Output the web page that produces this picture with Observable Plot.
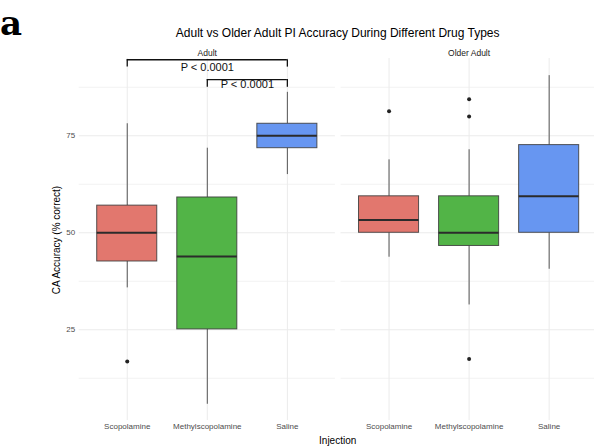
<!DOCTYPE html>
<html>
<head>
<meta charset="utf-8">
<script src="https://cdn.jsdelivr.net/npm/d3@7"></script>
<script src="https://cdn.jsdelivr.net/npm/@observablehq/plot@0.6"></script>
<style>
  html, body { margin: 0; padding: 0; background: white; overflow: hidden; }
</style>
</head>
<body>
<div id="chart"></div>
<script>
// ---- data ----
const panels = ["Adult", "Older Adult"];
const injections = ["Scopolamine", "Methylscopolamine", "Saline"];
const boxColors = ["#E2776E", "#52B447", "#6796F1"];

const groupPanel = ["Adult", "Adult", "Adult", "Older Adult", "Older Adult", "Older Adult"];
const groupInjection = ["Scopolamine", "Methylscopolamine", "Saline", "Scopolamine", "Methylscopolamine", "Saline"];
const whiskerLow  = [35.8,  5.8, 65.0, 43.7, 31.4, 40.6];
const quartile1   = [42.6, 25.1, 71.8, 50.0, 46.6, 50.0];
const median      = [50.0, 43.9, 75.0, 53.3, 50.0, 59.4];
const quartile3   = [57.0, 59.1, 78.1, 59.4, 59.4, 72.6];
const whiskerHigh = [78.1, 71.8, 86.2, 68.8, 71.4, 90.5];

const outlierPanel = ["Adult", "Older Adult", "Older Adult", "Older Adult", "Older Adult"];
const outlierInjection = ["Scopolamine", "Scopolamine", "Methylscopolamine", "Methylscopolamine", "Methylscopolamine"];
const outlierValue = [16.8, 81.3, 84.4, 80.0, 17.5];

const bracketPanel = ["Adult", "Adult"];
const bracketFrom = ["Scopolamine", "Methylscopolamine"];
const bracketTo = ["Saline", "Saline"];
const bracketY = [94.6, 89.5];
const bracketTipY = [92.7, 87.5];
const bracketLabelY = [92.7, 88.1];
const bracketLabel = ["P < 0.0001", "P < 0.0001"];

const yMajorTicks = [25, 50, 75];
const yMinorTicks = [12.5, 37.5, 62.5, 87.5];

const titleText = "Adult vs Older Adult PI Accuracy During Different Drug Types";
const yLabel = "CA Accuracy (% correct)";
const xLabel = "Injection";
const panelTag = "a";

// ---- tables ----
const idx = name => injections.indexOf(name);
const boxes = groupPanel.map((p, k) => ({
  panel: p, injection: groupInjection[k], i: idx(groupInjection[k]),
  lo: whiskerLow[k], q1: quartile1[k], med: median[k], q3: quartile3[k], hi: whiskerHigh[k]
}));
const outliers = outlierPanel.map((p, k) => ({panel: p, i: idx(outlierInjection[k]), v: outlierValue[k]}));
const brackets = bracketPanel.map((p, k) => ({
  panel: p, a: idx(bracketFrom[k]), b: idx(bracketTo[k]),
  y: bracketY[k], tip: bracketTipY[k], ly: bracketLabelY[k], label: bracketLabel[k]
}));

const half = 0.375; // half box width in category units
const font = "'Liberation Sans', Arial, Helvetica, sans-serif";

const W = 594, H = 448;
const plot = Plot.plot({
  width: W,
  height: H,
  marginLeft: 78.7,
  marginRight: -2.7,
  marginTop: 58,
  marginBottom: 28,
  style: {fontFamily: font, background: "white", overflow: "visible"},
  fx: {domain: panels, paddingInner: 0.0214, paddingOuter: 0, round: false},
  x: {domain: [-0.6, 2.6]},
  y: {domain: [1.62, 94.92]},
  color: {domain: injections, range: boxColors},
  marks: [
    Plot.gridY(yMinorTicks, {stroke: "#ebebeb", strokeOpacity: 1, strokeWidth: 0.6}),
    Plot.gridY(yMajorTicks, {stroke: "#ebebeb", strokeOpacity: 1, strokeWidth: 1}),
    Plot.gridX([0, 1, 2], {stroke: "#ebebeb", strokeOpacity: 1, strokeWidth: 1}),
    Plot.axisY({ticks: yMajorTicks, tickSize: 0, tickPadding: 4, fontSize: 8, fill: "#4d4d4d", label: null}),
    Plot.axisX({ticks: [0, 1, 2], tickFormat: i => injections[i], tickSize: 0, tickPadding: 3, fontSize: 8, fill: "#4d4d4d", label: null}),
    Plot.axisFx({anchor: "top", tickSize: 0, tickPadding: 3, fontSize: 8.5, fill: "#1a1a1a", label: null}),
    // whiskers
    Plot.ruleX(boxes, {fx: "panel", x: "i", y1: "lo", y2: "q1", stroke: "#555", strokeWidth: 1}),
    Plot.ruleX(boxes, {fx: "panel", x: "i", y1: "q3", y2: "hi", stroke: "#555", strokeWidth: 1}),
    // boxes
    Plot.rectY(boxes, {fx: "panel", x1: d => d.i - half, x2: d => d.i + half, y1: "q1", y2: "q3",
      fill: "injection", stroke: "#3a3a3a", strokeWidth: 1, strokeOpacity: 0.85}),
    // medians
    Plot.ruleY(boxes, {fx: "panel", y: "med", x1: d => d.i - half, x2: d => d.i + half, stroke: "#2b2b2b", strokeWidth: 2}),
    // outliers
    Plot.dot(outliers, {fx: "panel", x: "i", y: "v", r: 2, fill: "#222", stroke: null}),
    // significance brackets
    Plot.ruleY(brackets, {fx: "panel", y: "y", x1: "a", x2: "b", stroke: "#111", strokeWidth: 1.3}),
    Plot.ruleX(brackets, {fx: "panel", x: "a", y1: "tip", y2: "y", stroke: "#111", strokeWidth: 1.3}),
    Plot.ruleX(brackets, {fx: "panel", x: "b", y1: "tip", y2: "y", stroke: "#111", strokeWidth: 1.3}),
    Plot.text(brackets, {fx: "panel", x: d => (d.a + d.b) / 2, y: "ly", text: "label", fontSize: 11, fill: "#111"})
  ]
});

const svg = d3.select(plot);
// panel tag
svg.append("text").attr("x", 11).attr("y", 35)
  .attr("font-family", "'DejaVu Serif', 'Liberation Serif', serif").attr("font-weight", "bold")
  .attr("font-size", 34).attr("fill", "#000").text(panelTag);
// title
svg.append("text").attr("x", 337.7).attr("y", 37).attr("text-anchor", "middle")
  .attr("font-family", font).attr("font-size", 12).attr("fill", "#000").text(titleText);
// y label
svg.append("text").attr("transform", "translate(60,240) rotate(-90)").attr("text-anchor", "middle")
  .attr("font-family", font).attr("font-size", 10).attr("fill", "#000").text(yLabel);
// x label
svg.append("text").attr("x", 337.7).attr("y", 444).attr("text-anchor", "middle")
  .attr("font-family", font).attr("font-size", 10).attr("fill", "#000").text(xLabel);

document.getElementById("chart").appendChild(plot);
</script>
</body>
</html>
